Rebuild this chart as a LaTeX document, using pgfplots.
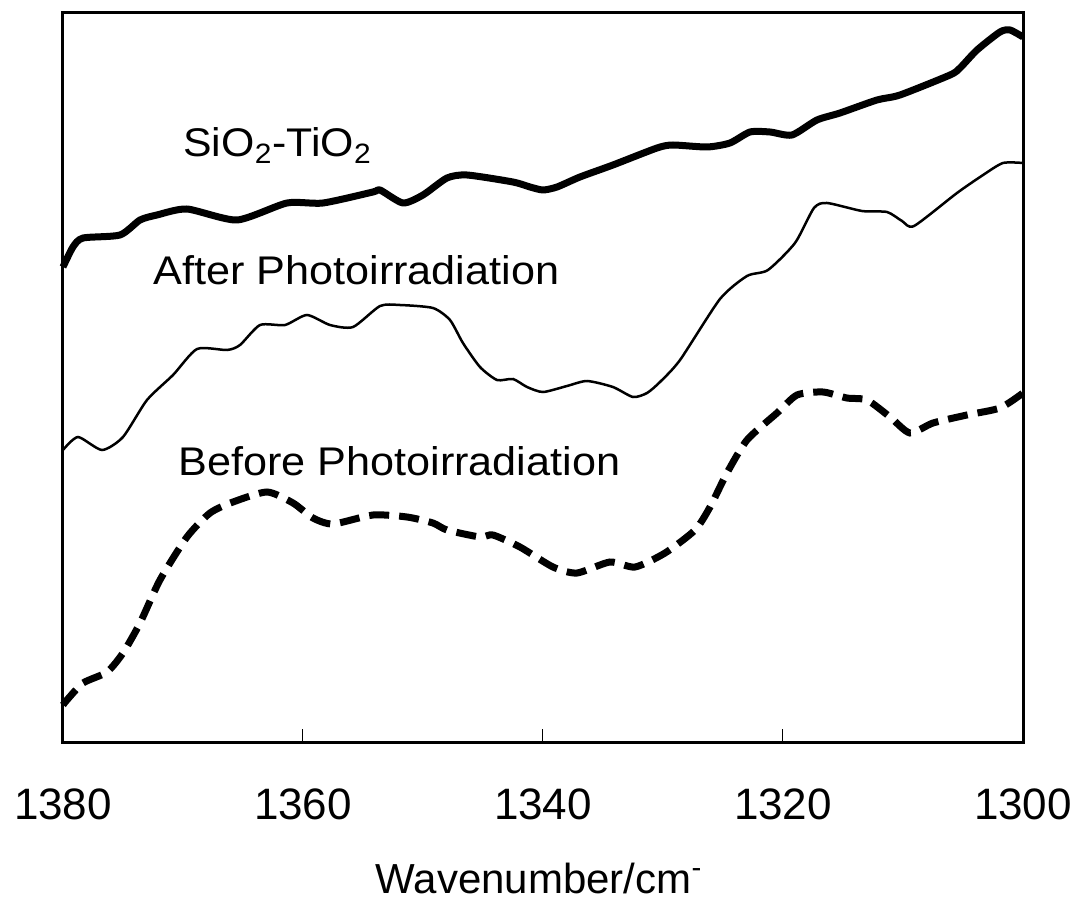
\documentclass[border=0pt]{standalone}
\usepackage{fontspec}
\setmainfont{Liberation Sans}
\usepackage{pgfplots}
\pgfplotsset{compat=1.18}
\begin{document}
\begin{tikzpicture}
\begin{axis}[
  scale only axis, width=480pt, height=364.5pt,
  x dir=reverse, xmin=1300, xmax=1380, ymin=0, ymax=729,
  xtick={1300,1320,1340,1360,1380}, ytick=\empty,
  axis line style={line width=1.5pt},
  tick style={line width=0.5pt, black}, major tick length=6.5pt,
  tick align=inside, xtick pos=bottom,
  /pgf/number format/assume math mode=true, /pgf/number format/1000 sep={},
  xticklabel style={font=\fontsize{22}{26}\selectfont, inner sep=0pt, yshift=-23pt},
  xlabel={Wavenumber/cm\textsuperscript{-}},
  xlabel style={font=\fontsize{21}{25}\selectfont, at={(axis description cs:0.5,0)}, anchor=base, inner sep=0pt, yshift=-75.5pt, xshift=-2pt},
  clip=false,
]
% SiO2-TiO2
\addplot[black, line width=3.5pt, smooth, tension=0.4, line join=round] coordinates {
(1380.0,475) (1379.17,495) (1378.33,504) (1375.25,507) (1373.58,522) (1372.17,527)
(1369.67,533) (1365.5,522) (1361.33,539) (1358.33,539) (1354.17,550) (1353.58,552)
(1351.67,539) (1350.0,547) (1348.0,564) (1346.33,567) (1342.5,560) (1341.08,555)
(1340.0,552) (1338.83,555) (1336.92,565) (1334.17,577) (1330.5,594) (1329.17,597)
(1326.33,595) (1324.42,599) (1322.75,610) (1321.08,610) (1319.25,607) (1317.17,622)
(1315.25,629) (1312.17,642) (1310.25,647) (1306.08,667) (1305.25,674) (1303.83,692)
(1301.92,710) (1301.08,712) (1300.0,705)
};
% After Photoirradiation
\addplot[black, line width=1.25pt, smooth, tension=0.4] coordinates {
(1380,292) (1378.75,305) (1376.75,292) (1375.0,305) (1373.0,342) (1370.83,367)
(1368.83,393) (1366.33,392) (1365.25,397) (1363.58,417) (1361.5,417) (1359.67,427)
(1357.75,417) (1355.83,415) (1353.58,436) (1351.92,437) (1349.17,434) (1347.75,422)
(1346.67,399) (1345.25,375) (1343.83,362) (1342.5,363) (1341.33,355) (1340.0,350)
(1338.0,356) (1336.33,361) (1334.17,355) (1332.5,345) (1331.33,349) (1330.25,360)
(1328.58,382) (1325.25,443) (1323.0,466) (1321.25,472) (1319.0,499) (1317.42,534)
(1316.33,539) (1313.42,531) (1311.33,530) (1310.08,521) (1309.08,516) (1305.5,549)
(1303.33,567) (1301.67,579) (1300,579)
};
% Before Photoirradiation
\addplot[black, line width=3.5pt, smooth, tension=0.4, dash pattern=on 10pt off 5pt] coordinates {
(1380,37) (1379.67,42) (1378.33,59) (1376.33,70) (1375.0,89) (1373.58,119)
(1371.92,162) (1369.67,205) (1367.75,229) (1365.83,240) (1363.0,250) (1360.83,239)
(1359.17,224) (1357.5,218) (1354.17,227) (1351.33,225) (1349.17,219) (1348.0,212)
(1345.25,205) (1344.17,207) (1341.92,195) (1339.17,175) (1337.17,169) (1334.42,180)
(1332.33,175) (1329.83,189) (1327.33,212) (1326.08,235) (1324.67,269) (1323.0,302)
(1320.5,329) (1318.83,347) (1316.67,350) (1314.67,344) (1313.0,342) (1311.08,325)
(1309.42,309) (1307.5,319) (1304.67,327) (1301.92,334) (1300,349)
};
\node[anchor=base west, inner sep=0pt, xscale=1.07, font=\fontsize{20}{24}\selectfont] at (axis cs:1370.0,585) {SiO\textsubscript{2}-TiO\textsubscript{2}};
\node[anchor=base west, inner sep=0pt, xscale=1.08, font=\fontsize{20}{24}\selectfont] at (axis cs:1372.5,457) {After Photoirradiation};
\node[anchor=base west, inner sep=0pt, xscale=1.08, font=\fontsize{20}{24}\selectfont] at (axis cs:1370.42,267) {Before Photoirradiation};
\path (axis description cs:-0.065625,-0.21536) rectangle (axis description cs:1.05104,1.01783);
\end{axis}
\end{tikzpicture}
\end{document}
